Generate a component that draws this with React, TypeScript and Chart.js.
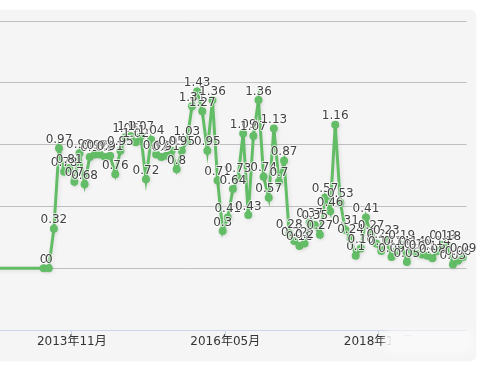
import React, { useEffect, useRef } from "react";
import { Chart, registerables } from "chart.js";

Chart.register(...registerables);

// Monthly observations (first one lies before the visible window)
const months: string[] = [
  "2012-01",
  "2013-05", "2013-06", "2013-07", "2013-08", "2013-09", "2013-10", "2013-11", "2013-12",
  "2014-01", "2014-02", "2014-03", "2014-04", "2014-05", "2014-06", "2014-07", "2014-08", "2014-09", "2014-10", "2014-11", "2014-12",
  "2015-01", "2015-02", "2015-03", "2015-04", "2015-05", "2015-06", "2015-07", "2015-08", "2015-09", "2015-10", "2015-11", "2015-12",
  "2016-01", "2016-02", "2016-03", "2016-04", "2016-05", "2016-06", "2016-07", "2016-08", "2016-09", "2016-10", "2016-11", "2016-12",
  "2017-01", "2017-02", "2017-03", "2017-04", "2017-05", "2017-06", "2017-07", "2017-08", "2017-09", "2017-10", "2017-11", "2017-12",
  "2018-01", "2018-02", "2018-03", "2018-04", "2018-05", "2018-06", "2018-07", "2018-08", "2018-09", "2018-10", "2018-11", "2018-12",
  "2019-01", "2019-02", "2019-03", "2019-04", "2019-05", "2019-06", "2019-07", "2019-08", "2019-09", "2019-10", "2019-11", "2019-12",
  "2020-01", "2020-02", "2020-03",
];

const values: number[] = [
  0,
  0, 0, 0.32, 0.97, 0.78, 0.81, 0.7, 0.93,
  0.68, 0.9, 0.92, 0.92, 0.9, 0.91, 0.76, 0.95, 1.06, 1.07, 1.02, 1.07,
  0.72, 1.04, 0.92, 0.9, 0.91, 0.95, 0.8, 0.95, 1.03, 1.31, 1.43, 1.27,
  0.95, 1.36, 0.71, 0.3, 0.41, 0.64, 0.73, 1.09, 0.43, 1.07, 1.36, 0.74,
  0.57, 1.13, 0.7, 0.87, 0.28, 0.22, 0.18, 0.2, 0.37, 0.35, 0.27, 0.57,
  0.46, 1.16, 0.53, 0.31, 0.24, 0.1, 0.16, 0.41, 0.27, 0.2, 0.14, 0.23,
  0.09, 0.14, 0.19, 0.05, 0.14, 0.12, 0.11, 0.1, 0.08, 0.14, 0.19, 0.18,
  0.03, 0.06, 0.09,
];

const tickMonths: string[] = ["2013-11", "2016-05", "2018-11"];

const yTicks: number[] = [-0.5, 0, 0.5, 1, 1.5, 2];

const BASE_YEAR = 2013;
const monthIndex = (m: string) => {
  const [y, mo] = m.split("-").map(Number);
  return (y - BASE_YEAR) * 12 + (mo - 1);
};
const formatMonth = (idx: number) => {
  const y = BASE_YEAR + Math.floor(idx / 12);
  const mo = ((idx % 12) + 12) % 12 + 1;
  return `${y}年${mo < 10 ? "0" + mo : mo}月`;
};

const GREEN = "#63bd66";
const FONT = '"DejaVu Sans", "Noto Sans CJK SC", sans-serif';

const shadowPlugin = {
  id: "lineShadow",
  beforeDatasetDraw(chart: any) {
    const ctx = chart.ctx;
    ctx.save();
    ctx.shadowColor = "rgba(0,0,0,0.1)";
    ctx.shadowBlur = 4;
    ctx.shadowOffsetX = 1;
    ctx.shadowOffsetY = 1;
  },
  afterDatasetDraw(chart: any) {
    chart.ctx.restore();
  },
};

const labelPlugin = {
  id: "pointLabels",
  afterDatasetsDraw(chart: any) {
    const ctx = chart.ctx;
    const meta = chart.getDatasetMeta(0);
    ctx.save();
    ctx.font = `12px ${FONT}`;
    ctx.textAlign = "center";
    ctx.textBaseline = "alphabetic";
    ctx.lineJoin = "round";
    meta.data.forEach((pt: any, i: number) => {
      const text = String(values[i]);
      const x = pt.x;
      const y = pt.y - 5.5;
      ctx.strokeStyle = "rgba(255,255,255,0.7)";
      ctx.lineWidth = 2;
      ctx.strokeText(text, x, y);
      ctx.fillStyle = "#424242";
      ctx.fillText(text, x, y);
    });
    ctx.restore();
  },
};

export default function App() {
  const canvasRef = useRef<HTMLCanvasElement | null>(null);

  useEffect(() => {
    if (!canvasRef.current) return;
    const data = months.map((m, i) => ({ x: monthIndex(m) + 0.5, y: values[i] }));
    const chart = new Chart(canvasRef.current, {
      type: "line",
      data: {
        datasets: [
          {
            data,
            borderColor: GREEN,
            backgroundColor: GREEN,
            borderWidth: 3,
            pointRadius: 4,
            pointHoverRadius: 4,
            pointBorderWidth: 0,
            pointBackgroundColor: GREEN,
            tension: 0,
            fill: false,
          },
        ],
      },
      options: {
        animation: false,
        responsive: true,
        maintainAspectRatio: false,
        events: [],
        layout: { padding: { top: 21, right: 14.3, left: 0, bottom: 0 } },
        plugins: { legend: { display: false }, tooltip: { enabled: false } },
        scales: {
          x: {
            type: "linear",
            min: -22.8,
            max: 87.2,
            afterBuildTicks: (scale: any) => {
              scale.ticks = tickMonths.map((m) => ({ value: monthIndex(m) }));
            },
            afterFit: (scale: any) => {
              scale.height = 36;
            },
            border: { display: true, color: "#ccd6eb", width: 1 },
            grid: {
              drawOnChartArea: false,
              drawTicks: true,
              tickLength: 5,
              color: "#ccd6eb",
            },
            ticks: {
              autoSkip: false,
              maxRotation: 0,
              padding: 0,
              color: "#333333",
              font: { family: FONT, size: 12 },
              callback: (v: any) => formatMonth(Number(v)),
            },
          },
          y: {
            min: -0.5,
            max: 2,
            afterBuildTicks: (scale: any) => {
              scale.ticks = yTicks.map((v) => ({ value: v }));
            },
            afterFit: (scale: any) => {
              scale.width = 0;
            },
            border: { display: false },
            grid: {
              drawTicks: false,
              color: (c: any) => (c.tick && c.tick.value === -0.5 ? "rgba(0,0,0,0)" : "#c0c0c0"),
            },
            ticks: { display: false },
          },
        },
      },
      plugins: [shadowPlugin, labelPlugin],
    });
    return () => chart.destroy();
  }, []);

  return (
    <div
      style={{
        position: "fixed",
        left: 0,
        top: 0,
        width: 481,
        height: 366,
        overflow: "hidden",
        background: "#ffffff",
      }}
    >
      <div
        style={{
          position: "absolute",
          left: -20,
          top: 10,
          width: 496,
          height: 351,
          background: "#f5f5f5",
          borderRadius: 6,
          boxShadow: "0 0 2px rgba(0,0,0,0.06)",
        }}
      />
      <div style={{ position: "absolute", left: -100, top: 0, width: 581, height: 366 }}>
        <canvas ref={canvasRef} />
      </div>
      <div
        style={{
          position: "absolute",
          left: 386,
          top: 330,
          width: 86,
          height: 23,
          background: "#f9f9f9",
          filter: "blur(3px)",
        }}
      />
    </div>
  );
}
